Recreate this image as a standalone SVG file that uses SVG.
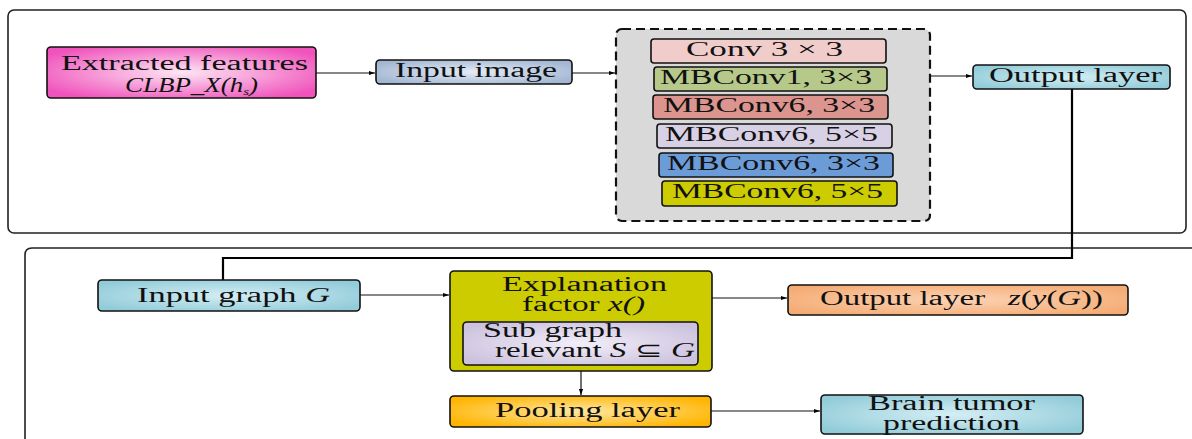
<svg xmlns="http://www.w3.org/2000/svg" width="1192" height="439" viewBox="0 0 1192 439">
<defs>
<radialGradient id="gPink" cx="50%" cy="50%" r="60%"><stop offset="0" stop-color="#fde6f4"/><stop offset="1" stop-color="#f054bc"/></radialGradient>
<radialGradient id="gBlueGray" cx="50%" cy="50%" r="60%"><stop offset="0" stop-color="#e4ecf6"/><stop offset="1" stop-color="#a2b6d2"/></radialGradient>
<radialGradient id="gCyan" cx="50%" cy="50%" r="60%"><stop offset="0" stop-color="#d4eef4"/><stop offset="1" stop-color="#92ccd9"/></radialGradient>
<radialGradient id="gOrange" cx="50%" cy="50%" r="60%"><stop offset="0" stop-color="#ffe7a0"/><stop offset="1" stop-color="#ffb400"/></radialGradient>
<radialGradient id="gPeach" cx="50%" cy="50%" r="60%"><stop offset="0" stop-color="#fcd2b4"/><stop offset="1" stop-color="#f4ac74"/></radialGradient>
<radialGradient id="gLav" cx="50%" cy="50%" r="60%"><stop offset="0" stop-color="#f2eef8"/><stop offset="1" stop-color="#ccc2de"/></radialGradient>
<marker id="arr" viewBox="0 0 10 10" refX="10" refY="5" markerWidth="9" markerHeight="6" markerUnits="userSpaceOnUse" orient="auto"><path d="M0,1.5 L10,5 L0,8.5 z" fill="#000"/></marker>
</defs>
<style>
.panel{fill:#fff;stroke:#222;stroke-width:1.6}
.box{stroke:#111;stroke-width:1.6}
.t{font-family:"Liberation Serif","Times New Roman",serif;fill:#111;font-size:20px}
.it{font-style:italic}
.c{stroke:#111;stroke-width:1.2;fill:none}
.cw{stroke:#000;stroke-width:2.2;fill:none}
</style>
<rect width="1192" height="439" fill="#fff"/>
<g id="panel-top"><rect class="panel" x="8" y="10" width="1178" height="223" rx="6"/></g>
<g id="panel-bottom"><path class="panel" d="M25,439 L25,255 Q25,248 32,248 L1192,248"/></g>

<g id="connectors">
<line class="c" x1="316" y1="73" x2="375" y2="73" marker-end="url(#arr)"/>
<line class="c" x1="572" y1="73" x2="615" y2="73" marker-end="url(#arr)"/>
<line class="c" x1="930" y1="76" x2="972" y2="76" marker-end="url(#arr)"/>
<polyline class="cw" points="1072,89 1072,258 223,258 223,280"/>
<line class="c" x1="360" y1="295" x2="449" y2="295" marker-end="url(#arr)"/>
<line class="c" x1="712" y1="298" x2="787" y2="298" marker-end="url(#arr)"/>
<line class="c" x1="581" y1="371" x2="581" y2="395" stroke-width="1.8" marker-end="url(#arr)"/>
<line class="c" x1="711" y1="411" x2="820" y2="411" marker-end="url(#arr)"/>
</g>

<g id="extracted-features">
<rect class="box" x="47" y="47" width="269" height="51" rx="4" fill="url(#gPink)"/>
<text class="t" x="61" y="70" font-size="18" textLength="247" lengthAdjust="spacingAndGlyphs">Extracted features</text>
<text class="t it" x="125" y="92" font-size="17" textLength="133" lengthAdjust="spacingAndGlyphs">CLBP_X(h<tspan font-size="11" dy="3">s</tspan><tspan dy="-3">)</tspan></text>
</g>

<g id="input-image">
<rect class="box" x="376" y="60" width="196" height="24" rx="4" fill="url(#gBlueGray)"/>
<text class="t" x="395" y="77" font-size="19" textLength="162" lengthAdjust="spacingAndGlyphs">Input image</text>
</g>

<g id="efficientnet">
<rect x="616" y="29" width="314" height="192" rx="6" fill="#d9d9d9" stroke="#111" stroke-width="2.2" stroke-dasharray="9,5"/>
<g id="conv3x3"><rect class="box" x="651" y="39" width="235" height="24" rx="3" fill="#f0cdcb"/>
<text class="t" x="686" y="56" font-size="18" textLength="157" lengthAdjust="spacingAndGlyphs">Conv 3 × 3</text></g>
<g id="mbconv1"><rect class="box" x="654" y="67" width="233" height="24" rx="3" fill="#b6c98a"/>
<text class="t" x="660" y="84" textLength="212" lengthAdjust="spacingAndGlyphs">MBConv1, 3×3</text></g>
<g id="mbconv6a"><rect class="box" x="653" y="95" width="235" height="24" rx="3" fill="#dc948f"/>
<text class="t" x="663" y="112" textLength="212" lengthAdjust="spacingAndGlyphs">MBConv6, 3×3</text></g>
<g id="mbconv6b"><rect class="box" x="657" y="124" width="235" height="24" rx="3" fill="#d8d0e4"/>
<text class="t" x="665" y="141" textLength="213" lengthAdjust="spacingAndGlyphs">MBConv6, 5×5</text></g>
<g id="mbconv6c"><rect class="box" x="659" y="153" width="234" height="24" rx="3" fill="#6c9cd8"/>
<text class="t" x="667" y="170" textLength="213" lengthAdjust="spacingAndGlyphs">MBConv6, 3×3</text></g>
<g id="mbconv6d"><rect class="box" x="662" y="181" width="235" height="25" rx="3" fill="#cccc00"/>
<text class="t" x="672" y="198" textLength="211" lengthAdjust="spacingAndGlyphs">MBConv6, 5×5</text></g>
</g>

<g id="output-layer-top">
<rect class="box" x="973" y="65" width="197" height="24" rx="4" fill="url(#gCyan)"/>
<text class="t" x="989" y="82" font-size="19" textLength="173" lengthAdjust="spacingAndGlyphs">Output layer</text>
</g>

<g id="input-graph">
<rect class="box" x="98" y="280" width="262" height="31" rx="4" fill="url(#gCyan)"/>
<text class="t" x="137" y="302" font-size="19" textLength="193" lengthAdjust="spacingAndGlyphs">Input graph <tspan class="it">G</tspan></text>
</g>

<g id="explanation">
<rect class="box" x="450" y="271" width="262" height="100" rx="4" fill="#cccc00"/>
<text class="t" x="502" y="291" font-size="18" textLength="165" lengthAdjust="spacingAndGlyphs">Explanation</text>
<text class="t" x="522" y="311" font-size="18" textLength="123" lengthAdjust="spacingAndGlyphs">factor <tspan class="it">x()</tspan></text>
<g id="subgraph">
<rect class="box" x="463" y="322" width="235" height="43" rx="4" fill="url(#gLav)"/>
<text class="t" x="483" y="337" font-size="18" textLength="139" lengthAdjust="spacingAndGlyphs">Sub graph</text>
<text class="t" x="495" y="357" font-size="18" textLength="200" lengthAdjust="spacingAndGlyphs">relevant <tspan class="it">S</tspan> ⊆ <tspan class="it">G</tspan></text>
</g>
</g>

<g id="output-layer-z">
<rect class="box" x="788" y="285" width="340" height="30" rx="4" fill="url(#gPeach)"/>
<text class="t" x="820" y="305" font-size="19" textLength="283" lengthAdjust="spacingAndGlyphs">Output layer<tspan class="it" dx="14">z</tspan>(<tspan class="it">y</tspan>(<tspan class="it">G</tspan>))</text>
</g>

<g id="pooling">
<rect class="box" x="450" y="396" width="261" height="31" rx="4" fill="url(#gOrange)"/>
<text class="t" x="495" y="417" font-size="19" textLength="185" lengthAdjust="spacingAndGlyphs">Pooling layer</text>
</g>

<g id="brain-tumor">
<rect class="box" x="821" y="395" width="262" height="39" rx="4" fill="url(#gCyan)"/>
<text class="t" x="868" y="410" font-size="18" textLength="167" lengthAdjust="spacingAndGlyphs">Brain tumor</text>
<text class="t" x="883" y="430" font-size="18" textLength="137" lengthAdjust="spacingAndGlyphs">prediction</text>
</g>
</svg>
